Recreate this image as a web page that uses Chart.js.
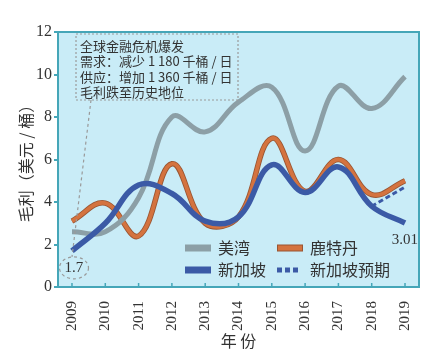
<!DOCTYPE html>
<html>
<head>
<meta charset="utf-8">
<script src="https://cdn.jsdelivr.net/npm/chart.js@4.4.1/dist/chart.umd.min.js"></script>
<style>
  html, body { margin: 0; padding: 0; background: #fff; }
  #wrap { width: 448px; height: 351px; position: relative; }
</style>
</head>
<body>
<div id="wrap"><canvas id="chart"></canvas></div>
<script>
const years = [2009, 2010, 2011, 2012, 2013, 2014, 2015, 2016, 2017, 2018, 2019];
const gulfValues = [2.6, 2.6, 4.2, 8.0, 7.3, 8.7, 9.4, 6.4, 9.45, 8.4, 9.9];
const rotterdamValues = [3.1, 3.95, 2.4, 5.8, 3.0, 3.3, 7.0, 4.5, 6.0, 4.35, 5.0];
const singaporeValues = [1.7, 3.0, 4.8, 4.4, 3.1, 3.3, 5.75, 4.45, 5.65, 3.8, 3.01];
const forecastYears = [2018, 2019];
const forecastValues = [3.8, 4.7];
const yTicks = [0, 2, 4, 6, 8, 10, 12];
const noteLines = ["全球金融危机爆发", "需求：减少 1 180 千桶 / 日", "供应：增加 1 360 千桶 / 日", "毛利跌至历史地位"];

const GRAY = "#8c9fa6";
const ORANGE = "#d4733f";
const ORANGE_EDGE = "#9a5532";
const BLUE = "#3b5aa6";
const FRAME = "#45a6b8";
const CJK = "'Noto Sans CJK SC', 'Noto Sans', sans-serif";
const NUM = "'Liberation Serif', serif";

function toPoints(xs, ys) {
    return xs.map((x, i) => ({ x, y: ys[i] }));
}

const decor = {
    id: "decor",
    beforeDraw(chart) {
        const { ctx, chartArea: a } = chart;
        ctx.save();
        ctx.fillStyle = "#c9ecf7";
        ctx.fillRect(a.left, a.top, a.right - a.left, a.bottom - a.top);
        ctx.restore();
    },
    afterDraw(chart) {
        const { ctx, chartArea: a, scales } = chart;
        const xs = scales.x, ys = scales.y;
        ctx.save();
        // frame
        ctx.strokeStyle = FRAME;
        ctx.lineWidth = 2;
        ctx.strokeRect(a.left, a.top, a.right - a.left, a.bottom - a.top);
        // inward x ticks
        ctx.lineWidth = 1.5;
        years.forEach(v => {
            const px = xs.getPixelForValue(v);
            ctx.beginPath();
            ctx.moveTo(px, a.bottom);
            ctx.lineTo(px, a.bottom - 4);
            ctx.stroke();
        });

        // note box
        ctx.setLineDash([2, 2]);
        ctx.strokeStyle = "#9a9a9a";
        ctx.lineWidth = 1.2;
        ctx.strokeRect(76, 34, 162, 66);
        ctx.fillStyle = "#333";
        ctx.font = "13px " + CJK;
        ctx.textBaseline = "middle";
        ctx.textAlign = "left";
        noteLines.forEach((t, i) => ctx.fillText(t, 80, 46 + i * 15.5));

        // leader line + circle below first Singapore point
        const cx = xs.getPixelForValue(years[0]) + 2;
        const cy = ys.getPixelForValue(singaporeValues[0]) + 17;
        ctx.setLineDash([3, 3]);
        ctx.beginPath();
        ctx.moveTo(91, 100);
        ctx.lineTo(cx - 2, cy - 11);
        ctx.stroke();
        ctx.beginPath();
        ctx.ellipse(cx, cy, 14.5, 11, 0, 0, Math.PI * 2);
        ctx.stroke();
        ctx.setLineDash([]);
        ctx.font = "15px " + NUM;
        ctx.textAlign = "center";
        ctx.fillText(String(singaporeValues[0]), cx, cy);

        // last value label
        const last = singaporeValues[singaporeValues.length - 1];
        ctx.textAlign = "right";
        ctx.fillText(last.toFixed(2), a.right - 1, ys.getPixelForValue(last) + 17);

        // legend
        const rows = [
            [{ x: 185, label: "美湾", color: GRAY }, { x: 277, label: "鹿特丹", color: ORANGE, edge: ORANGE_EDGE }],
            [{ x: 185, label: "新加坡", color: BLUE }, { x: 277, label: "新加坡预期", color: BLUE, dots: true }]
        ];
        ctx.font = "16px " + CJK;
        ctx.textAlign = "left";
        rows.forEach((row, r) => {
            const y = 248 + r * 22;
            row.forEach(item => {
                if (item.dots) {
                    ctx.fillStyle = item.color;
                    for (let k = 0; k < 3; k++) ctx.fillRect(item.x + k * 8, y - 2.5, 5, 5);
                } else {
                    ctx.fillStyle = item.edge || item.color;
                    ctx.fillRect(item.x, y - 3.5, 26, 7);
                    if (item.edge) {
                        ctx.fillStyle = item.color;
                        ctx.fillRect(item.x + 1, y - 2.5, 24, 5);
                    }
                }
                ctx.fillStyle = "#333";
                ctx.fillText(item.label, item.x + 33, y);
            });
        });
        ctx.restore();
    }
};

new Chart(document.getElementById("chart"), {
    type: "line",
    data: {
        datasets: [
            {
                label: "新加坡",
                data: toPoints(years, singaporeValues),
                borderColor: BLUE,
                borderWidth: 5.5,
                tension: 0.4,
            },
            {
                label: "新加坡预期",
                data: toPoints(forecastYears, forecastValues),
                borderColor: BLUE,
                borderWidth: 3,
                borderDash: [5, 3],
                tension: 0,
            },
            {
                label: "美湾",
                data: toPoints(years, gulfValues),
                borderColor: GRAY,
                borderWidth: 5,
                tension: 0.4,
            },
            {
                label: "鹿特丹",
                data: toPoints(years, rotterdamValues),
                borderColor: ORANGE,
                borderWidth: 3.8,
                tension: 0.4,
            },
            {
                label: "鹿特丹-edge",
                data: toPoints(years, rotterdamValues),
                borderColor: ORANGE_EDGE,
                borderWidth: 5.5,
                tension: 0.4,
            },
        ],
    },
    options: {
        responsive: true,
        maintainAspectRatio: false,
        animation: false,
        events: [],
        elements: { point: { radius: 0 } },
        layout: { padding: { left: 0, right: 29, top: 32, bottom: 0 } },
        plugins: {
            legend: { display: false },
            tooltip: { enabled: false },
        },
        scales: {
            x: {
                type: "linear",
                min: 2008.58,
                max: 2019.42,
                afterBuildTicks: s => { s.ticks = years.map(v => ({ value: v })); },
                afterFit: s => { s.height = 64; },
                grid: { display: false },
                border: { display: false },
                ticks: {
                    maxRotation: 90,
                    minRotation: 90,
                    padding: 6,
                    color: "#333",
                    font: { family: NUM, size: 15 },
                    callback: v => String(v),
                },
                title: {
                    display: true,
                    text: "年 份",
                    color: "#333",
                    font: { family: CJK, size: 16 },
                    padding: { top: 0, bottom: 0 },
                },
            },
            y: {
                min: 0,
                max: 12,
                afterBuildTicks: s => { s.ticks = yTicks.map(v => ({ value: v })); },
                afterFit: s => { s.width = 58; },
                grid: { drawOnChartArea: false, tickLength: 4, color: FRAME, lineWidth: 2 },
                border: { display: false },
                ticks: {
                    padding: 2,
                    color: "#333",
                    font: { family: NUM, size: 16 },
                },
                title: {
                    display: true,
                    text: "毛利（美元 / 桶）",
                    color: "#333",
                    font: { family: CJK, size: 16 },
                    padding: { top: 16, bottom: 0 },
                },
            },
        },
    },
    plugins: [decor],
});
</script>
</body>
</html>
